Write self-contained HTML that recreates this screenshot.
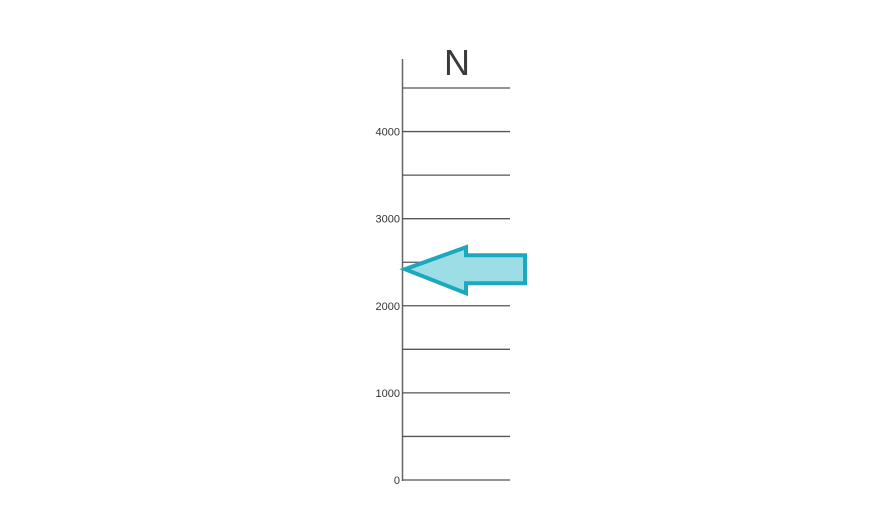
<!DOCTYPE html>
<html><head><meta charset="utf-8"><style>
html,body{margin:0;padding:0;background:#fff;}
svg{display:block;}
text{font-family:"Liberation Sans",sans-serif;}
</style></head><body>
<svg id="chart" width="894" height="524"></svg>
<script>
const ticks=[0,500,1000,1500,2000,2500,3000,3500,4000,4500];
const tickLabels=["0","","1000","","2000","","3000","","4000",""];
const markerValue=[2420];
const title=["N"];
const NS="http://www.w3.org/2000/svg";
const svg=document.getElementById('chart');
const y0=480,yScale=(480-88)/4500;
function y(v){return y0-v*yScale;}
function mk(t,a){const e=document.createElementNS(NS,t);for(const k in a)e.setAttribute(k,a[k]);svg.appendChild(e);return e;}
const ax=mk('line',{x1:402.5,y1:59,x2:402.5,y2:481,stroke:'#666','stroke-width':1.5});


ticks.forEach((v,i)=>{
  const g=mk('line',{x1:402,y1:y(v),x2:510,y2:y(v),stroke:'#555','stroke-width':1.3});
  
  
  if(tickLabels[i]){
    const t=mk('text',{x:400,y:y(v)+4,'text-anchor':'end','font-size':11,fill:'#333'});
    t.textContent=tickLabels[i];
    
    
  }
});
const tt=mk('text',{x:457,y:75,'text-anchor':'middle','font-size':36,fill:'#3a3a3a'});
tt.textContent=title[0];


const ty=y(markerValue[0]);
const pts=[[405,ty],[466,ty-22],[466,ty-14],[525,ty-14],[525,ty+14],[466,ty+14],[466,ty+24]];
const ar=mk('polygon',{points:pts.map(p=>p.join(',')).join(' '),fill:'#9cdde6',stroke:'#1aa9bd','stroke-width':4,'stroke-linejoin':'miter'});


</script>
</body></html>
